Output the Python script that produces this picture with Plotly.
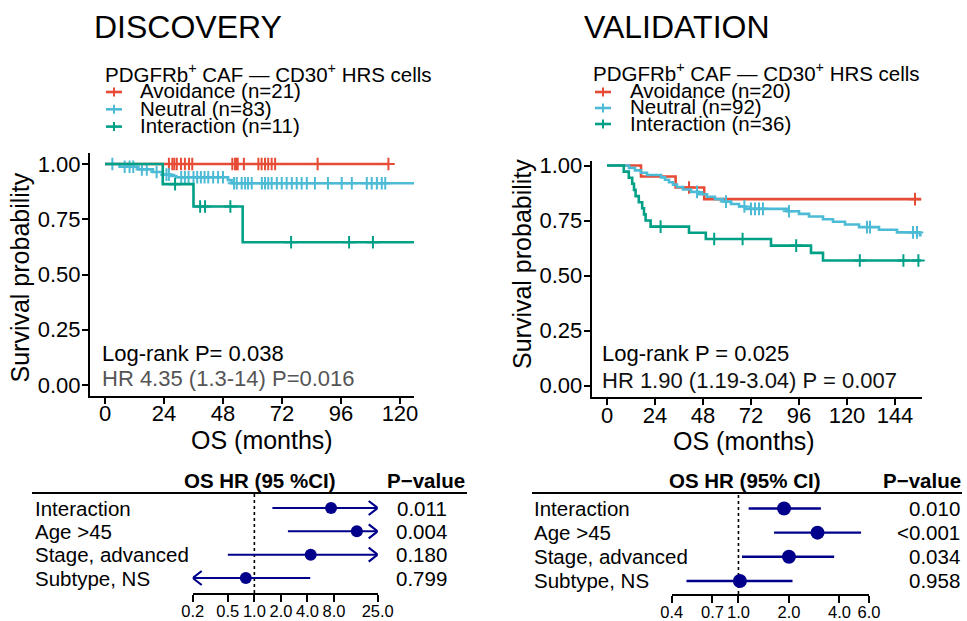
import numpy as np
import plotly.graph_objects as go

W, H = 967, 621


def px(x):
    return x / W


def py(y):
    return 1 - y / H


FONT = "Arial, Liberation Sans, Helvetica, sans-serif"
NAVY = "#00008B"
groups = ["Avoidance", "Neutral", "Interaction"]
group_colors = ["#E64B35", "#4DBBD5", "#00A087"]

# ---------------- Discovery cohort: Kaplan-Meier ----------------
disc_n = [21, 83, 11]
disc_av_event_t = []
disc_av_surv = []
disc_av_censor = [26.0, 27.4, 28.2, 29.2, 30.9, 32.5, 34.2, 35.5, 51.8, 52.9, 53.5,
                  54.0, 56.5, 62.4, 63.7, 65.1, 66.4, 67.8, 69.2, 86.5, 115.3]
disc_av_end = 115.3

disc_ne_event_t = [6.0, 13.5, 19.5, 23.5, 27.0, 29.0, 50.0, 51.5]
disc_ne_surv = [0.988, 0.976, 0.964, 0.952, 0.946, 0.940, 0.927, 0.913]
disc_ne_censor = [3, 8, 10, 11.5, 15, 17, 21, 25, 26, 31, 32.5, 34, 36, 37.5, 39, 40.5,
                  42, 44, 46, 48, 52.5, 53.6, 55.6, 57, 58.2, 59.7, 63.8, 65.1, 66.4,
                  67.8, 69.9, 71.9, 73.9, 76, 78, 80, 82.1, 85.4, 90.7, 96.3, 100.4,
                  106.5, 108.5, 110.6, 112.6, 114]
disc_ne_end = 126.0

disc_in_event_t = [23.5, 36.0, 56.0]
disc_in_surv = [0.909, 0.808, 0.646]
disc_in_censor = [28.5, 38.7, 40.7, 51.0, 75.7, 99.3, 109.0]
disc_in_end = 126.0

# ---------------- Validation cohort: Kaplan-Meier ----------------
val_n = [20, 92, 36]
val_av_event_t = [17.0, 34.3, 48.6]
val_av_surv = [0.950, 0.900, 0.847]
val_av_censor = [41.0, 154.0]
val_av_end = 157.0

val_ne_event_t = [11, 14, 17, 20, 27, 29, 31, 33, 35, 38, 42, 46, 50, 54, 58, 62, 66, 69,
                  90, 96, 101, 108, 113, 119, 126, 136, 145, 156.5]
val_ne_surv = [0.989, 0.978, 0.967, 0.957, 0.946, 0.935, 0.924, 0.913, 0.902, 0.891,
               0.880, 0.869, 0.858, 0.847, 0.836, 0.825, 0.814, 0.803, 0.792, 0.780,
               0.768, 0.756, 0.744, 0.732, 0.720, 0.708, 0.696, 0.683]
val_ne_censor = [45, 59.5, 68.7, 72, 74, 76, 78, 91, 130, 131.5, 153, 155]
val_ne_end = 157.5

val_in_event_t = [8.4, 10.9, 12.6, 13.5, 14.3, 15.9, 17.6, 18.5, 19.3, 21.8, 41, 49.4,
                  82, 102, 108]
val_in_surv = [0.972, 0.944, 0.917, 0.889, 0.861, 0.833, 0.806, 0.778, 0.750, 0.722,
               0.694, 0.666, 0.636, 0.603, 0.568]
val_in_censor = [26.8, 53.6, 67.8, 94.6, 126.4, 148.2, 155.7]
val_in_end = 157.0

# ---------------- Multivariable Cox models ----------------
forest_labels = ["Interaction", "Age >45", "Stage, advanced", "Subtype, NS"]
disc_hr = [7.4, 14.5, 4.35, 0.80]
disc_lo = [1.6, 2.4, 0.50, 0.12]
disc_hi = [34.0, 88.0, 38.0, 4.3]
disc_p = ["0.011", "0.004", "0.180", "0.799"]
disc_ticks = [0.2, 0.5, 1.0, 2.0, 4.0, 8.0, 25.0]
disc_ticktext = ["0.2", "0.5", "1.0", "2.0", "4.0", "8.0", "25.0"]

val_hr = [1.87, 2.96, 2.00, 1.02]
val_lo = [1.15, 1.63, 1.05, 0.49]
val_hi = [3.10, 5.38, 3.72, 2.10]
val_p = ["0.010", "<0.001", "0.034", "0.958"]
val_ticks = [0.4, 0.7, 1.0, 2.0, 4.0, 6.0]
val_ticktext = ["0.4", "0.7", "1.0", "2.0", "4.0", "6.0"]


def step_xy(ev_t, ev_s, t_end):
    x = [0.0] + list(ev_t) + [t_end]
    last = ev_s[-1] if ev_s else 1.0
    y = [1.0] + list(ev_s) + [last]
    return x, y


def surv_at(ev_t, ev_s, t):
    s = 1.0
    for tt, ss in zip(ev_t, ev_s):
        if tt <= t:
            s = ss
    return s


fig = go.Figure()


def add_km(xa, ya, curves):
    for (ev_t, ev_s, cens, t_end), col in zip(curves, group_colors):
        x, y = step_xy(ev_t, ev_s, t_end)
        fig.add_trace(go.Scatter(x=x, y=y, mode="lines", line=dict(color=col, width=2.6, shape="hv"),
                                 xaxis=xa, yaxis=ya, showlegend=False, hoverinfo="skip"))
        cy = [surv_at(ev_t, ev_s, t) for t in cens]
        fig.add_trace(go.Scatter(x=cens, y=cy, mode="markers",
                                 marker=dict(symbol="cross-thin", size=9, color=col,
                                             line=dict(color=col, width=2)),
                                 xaxis=xa, yaxis=ya, showlegend=False, hoverinfo="skip",
                                 cliponaxis=False))


add_km("x", "y", [
    (disc_av_event_t, disc_av_surv, disc_av_censor, disc_av_end),
    (disc_ne_event_t, disc_ne_surv, disc_ne_censor, disc_ne_end),
    (disc_in_event_t, disc_in_surv, disc_in_censor, disc_in_end),
])
add_km("x2", "y2", [
    (val_av_event_t, val_av_surv, val_av_censor, val_av_end),
    (val_ne_event_t, val_ne_surv, val_ne_censor, val_ne_end),
    (val_in_event_t, val_in_surv, val_in_censor, val_in_end),
])

annotations = []
shapes = []

# forest panel geometry (pixels)
disc_lim = (0.2, 25.0)
val_lim = (0.4, 6.0)
disc_xpx = (192.7, 377.7)
val_xpx = (671.7, 869.0)
disc_ypx = (593.0, 493.0)
val_ypx = (594.0, 493.0)
disc_yrange = (4.643, 0.357)
val_yrange = (4.54, 0.36)
HEAD_LEN, HEAD_HALF = 9.0, 7.0  # arrowhead size in px


def add_forest(xa, ya, hr, lo, hi, lim, xpx, ypx, yrange, msize, lw):
    rows = list(range(1, len(hr) + 1))
    px_per_decade = (xpx[1] - xpx[0]) / (np.log10(lim[1]) - np.log10(lim[0]))
    px_per_row = (ypx[0] - ypx[1]) / (yrange[0] - yrange[1])
    dx = 10 ** (HEAD_LEN / px_per_decade)
    dy = HEAD_HALF / px_per_row
    # reference line at HR = 1
    fig.add_trace(go.Scatter(x=[1, 1], y=list(yrange), mode="lines",
                             line=dict(color="black", width=1.6, dash="3px,3px"),
                             xaxis=xa, yaxis=ya, showlegend=False, hoverinfo="skip",
                             cliponaxis=False))
    for r, l, u in zip(rows, lo, hi):
        lc, uc = max(l, lim[0]), min(u, lim[1])
        fig.add_trace(go.Scatter(x=[lc, uc], y=[r, r], mode="lines",
                                 line=dict(color=NAVY, width=lw),
                                 xaxis=xa, yaxis=ya, showlegend=False, hoverinfo="skip",
                                 cliponaxis=False))
        # open arrowheads where the interval runs past the axis
        if u > lim[1]:
            fig.add_trace(go.Scatter(x=[lim[1] / dx, lim[1], lim[1] / dx], y=[r - dy, r, r + dy],
                                     mode="lines", line=dict(color=NAVY, width=2.2),
                                     xaxis=xa, yaxis=ya, showlegend=False, hoverinfo="skip",
                                     cliponaxis=False))
        if l < lim[0]:
            fig.add_trace(go.Scatter(x=[lim[0] * dx, lim[0], lim[0] * dx], y=[r - dy, r, r + dy],
                                     mode="lines", line=dict(color=NAVY, width=2.2),
                                     xaxis=xa, yaxis=ya, showlegend=False, hoverinfo="skip",
                                     cliponaxis=False))
    fig.add_trace(go.Scatter(x=hr, y=rows, mode="markers",
                             marker=dict(color=NAVY, size=msize),
                             xaxis=xa, yaxis=ya, showlegend=False, hoverinfo="skip",
                             cliponaxis=False))


add_forest("x3", "y3", disc_hr, disc_lo, disc_hi, disc_lim, disc_xpx, disc_ypx, disc_yrange, 12, 2)
add_forest("x4", "y4", val_hr, val_lo, val_hi, val_lim, val_xpx, val_ypx, val_yrange, 14, 2.4)

# ---------------- axes ----------------
km_tick_font = dict(family=FONT, size=22, color="black")
surv_ticks = [0, 0.25, 0.5, 0.75, 1.0]
surv_text = ["0.00", "0.25", "0.50", "0.75", "1.00"]
axis_common = dict(showgrid=False, zeroline=False, showline=True, linecolor="black",
                   linewidth=2, ticks="outside", ticklen=6, tickwidth=1.6, tickcolor="black",
                   mirror=False)
forest_axis = dict(showgrid=False, zeroline=False, showline=True, linecolor="black", linewidth=2,
                   ticks="outside", ticklen=7, tickwidth=2, tickcolor="black",
                   tickfont=dict(family=FONT, size=16.5, color="black"), ticklabelstandoff=-5)

fig.update_layout(
    xaxis=dict(domain=[px(90), px(414)], range=[-6.1, 125.7], tickvals=[0, 24, 48, 72, 96, 120],
               tickfont=km_tick_font, anchor="y", ticklabelstandoff=-9, **axis_common),
    yaxis=dict(domain=[py(396), py(153)], range=[-0.05, 1.05], tickvals=surv_ticks,
               ticktext=surv_text, tickfont=km_tick_font, anchor="x", ticklabelstandoff=-3,
               **axis_common),
    xaxis2=dict(domain=[px(591.7), px(921.7)], range=[-7.65, 157.35],
                tickvals=[0, 24, 48, 72, 96, 120, 144], tickfont=km_tick_font, anchor="y2",
                ticklabelstandoff=-8, **axis_common),
    yaxis2=dict(domain=[py(396.5), py(161.1)], range=[-0.05, 1.02], tickvals=surv_ticks,
                ticktext=surv_text, tickfont=km_tick_font, anchor="x2", ticklabelstandoff=-3,
                **axis_common),
    xaxis3=dict(domain=[px(disc_xpx[0]), px(disc_xpx[1])], type="log",
                range=[np.log10(disc_lim[0]), np.log10(disc_lim[1])],
                tickvals=disc_ticks, ticktext=disc_ticktext, anchor="y3", **forest_axis),
    yaxis3=dict(domain=[py(disc_ypx[0]), py(disc_ypx[1])], range=list(disc_yrange),
                visible=False, anchor="x3"),
    xaxis4=dict(domain=[px(val_xpx[0]), px(val_xpx[1])], type="log",
                range=[np.log10(val_lim[0]), np.log10(val_lim[1])],
                tickvals=val_ticks, ticktext=val_ticktext, anchor="y4", **forest_axis),
    yaxis4=dict(domain=[py(val_ypx[0]), py(val_ypx[1])], range=list(val_yrange),
                visible=False, anchor="x4"),
)


def text_ann(x, y, text, size, anchor="left", color="black", bold=False, angle=0, yanchor="middle"):
    if bold:
        text = "<b>" + text + "</b>"
    annotations.append(dict(x=px(x), y=py(y), xref="paper", yref="paper", text=text,
                            showarrow=False, xanchor=anchor, yanchor=yanchor, textangle=angle,
                            font=dict(family=FONT, size=size, color=color)))


# panel titles
text_ann(188, 27, "DISCOVERY", 32, anchor="center")
text_ann(677, 27, "VALIDATION", 32, anchor="center")

# axis titles
text_ann(262, 440, "OS (months)", 25, anchor="center")
text_ann(744, 441, "OS (months)", 25, anchor="center")
text_ann(19.5, 278, "Survival probability", 25, anchor="center", angle=-90)
text_ann(522, 264, "Survival probability", 25, anchor="center", angle=-90)

# statistics inside the survival panels
text_ann(100, 353, "Log-rank P= 0.038", 22)
text_ann(100, 378, "HR 4.35 (1.3-14) P=0.016", 22, color="#555555")
text_ann(600, 353, "Log-rank P = 0.025", 22)
text_ann(600, 380, "HR 1.90 (1.19-3.04) P = 0.007", 22, color="#111111")

# legends (title + keyed entries)
legend_title = "PDGFRb<sup>+</sup> CAF — CD30<sup>+</sup> HRS cells"


def add_legend(x_title, y_title, x_key, x_text, y_first, step, ns):
    text_ann(x_title, y_title, legend_title, 20.5)
    for i, (g, n, col) in enumerate(zip(groups, ns, group_colors)):
        yy = y_first + i * step
        text_ann(x_text, yy, f"{g} (n={n})", 20.5)
        shapes.append(dict(type="line", xref="paper", yref="paper",
                           x0=px(x_key - 8), x1=px(x_key + 8), y0=py(yy + 1), y1=py(yy + 1),
                           line=dict(color=col, width=2.6)))
        shapes.append(dict(type="line", xref="paper", yref="paper",
                           x0=px(x_key), x1=px(x_key), y0=py(yy + 1 - 4.5), y1=py(yy + 1 + 4.5),
                           line=dict(color=col, width=2)))


add_legend(103, 73, 114, 138, 91, 17.3, disc_n)
add_legend(591, 72, 603, 628, 91, 16.0, val_n)

# forest tables: headers, rule, row labels, p-values
shapes.append(dict(type="line", xref="paper", yref="paper", x0=px(32), x1=px(467),
                   y0=py(493), y1=py(493), line=dict(color="black", width=2)))
shapes.append(dict(type="line", xref="paper", yref="paper", x0=px(532), x1=px(962),
                   y0=py(493), y1=py(493), line=dict(color="black", width=2)))
text_ann(260, 480, "OS HR (95 %CI)", 20.5, anchor="center", bold=True)
text_ann(467, 480, "P−value", 20.5, anchor="right", bold=True)
text_ann(745, 480, "OS HR (95% CI)", 20.5, anchor="center", bold=True)
text_ann(963, 480, "P−value", 20.5, anchor="right", bold=True)

for i, (lab, p) in enumerate(zip(forest_labels, disc_p)):
    annotations.append(dict(x=px(33), y=i + 1, xref="paper", yref="y3", text=lab, showarrow=False,
                            xanchor="left", yanchor="middle",
                            font=dict(family=FONT, size=20.5, color="black")))
    annotations.append(dict(x=px(449), y=i + 1, xref="paper", yref="y3", text=p, showarrow=False,
                            xanchor="right", yanchor="middle",
                            font=dict(family=FONT, size=20.5, color="black")))
for i, (lab, p) in enumerate(zip(forest_labels, val_p)):
    annotations.append(dict(x=px(532), y=i + 1, xref="paper", yref="y4", text=lab, showarrow=False,
                            xanchor="left", yanchor="middle",
                            font=dict(family=FONT, size=20.5, color="black")))
    annotations.append(dict(x=px(962), y=i + 1, xref="paper", yref="y4", text=p, showarrow=False,
                            xanchor="right", yanchor="middle",
                            font=dict(family=FONT, size=20.5, color="black")))

fig.update_layout(
    template="none",
    width=W, height=H,
    margin=dict(l=0, r=0, t=0, b=0),
    paper_bgcolor="white", plot_bgcolor="white",
    showlegend=False,
    font=dict(family=FONT, color="black"),
    annotations=annotations,
    shapes=shapes,
)

fig.write_html("out.html", config={"displayModeBar": False})
